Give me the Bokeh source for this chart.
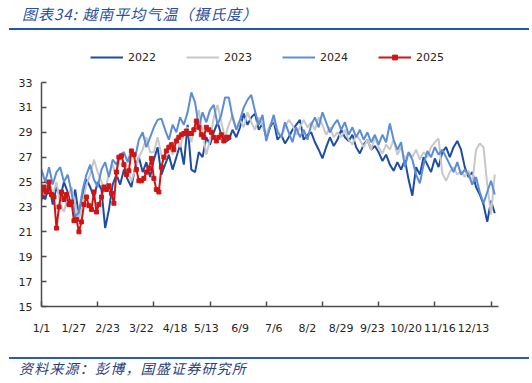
import numpy as np
from bokeh.plotting import figure
from bokeh.models import Range1d, FixedTicker, Legend, LegendItem, Div
from bokeh.layouts import column
from bokeh.embed import file_html
from bokeh.resources import INLINE

# ---------------- data ----------------
tick_days = [0, 26, 53, 80, 107, 132, 159, 186, 213, 240, 265, 292, 319, 346]
tick_labels = ["1/1", "1/27", "2/23", "3/22", "4/18", "5/13", "6/9", "7/6",
               "8/2", "8/29", "9/23", "10/20", "11/16", "12/13"]
minor_tick_days = [0, 45, 90, 135, 180, 225, 270, 315, 360]
y_ticks = [15, 17, 19, 21, 23, 25, 27, 29, 31, 33]
y_min, y_max = 15, 33

days_full = list(range(0, 364, 3))      # sampled every 3 days
days_2025 = list(range(0, 151, 2))      # sampled every 2 days

temp_2022 = [
    24.5, 23.6, 24.8, 23.2, 24.6, 23.8, 25.0, 24.2, 23.0, 24.4,
    22.2, 24.0, 25.2, 24.6, 23.8, 25.0, 24.4, 21.3, 22.8, 24.8,
    25.6, 24.8, 26.0, 25.2, 24.6, 26.2, 27.0, 25.8, 26.6, 25.4,
    26.8, 27.8, 25.6, 26.4, 27.2, 26.0, 27.0, 28.0, 26.4, 29.6,
    26.0, 25.8, 27.4, 27.0, 28.6, 28.0, 29.0, 29.8, 28.8, 28.2,
    28.4, 29.2, 28.6, 29.4, 30.5, 29.6, 30.2, 30.5, 29.2, 29.7,
    28.6, 29.4, 29.9, 28.4, 28.8, 28.1, 28.6, 29.2, 29.6, 30.0,
    28.4, 28.8, 29.0, 28.2, 27.6, 26.9, 27.8, 28.6, 27.9, 28.4,
    29.2, 28.6, 28.3, 28.8, 27.8, 27.3, 28.0, 28.4, 27.6, 27.9,
    27.4, 26.7, 27.2, 26.4, 25.9, 26.6, 26.0, 26.8, 25.2, 23.9,
    26.2, 25.6, 27.0, 26.4, 25.8, 26.9, 26.2, 27.4, 27.8, 27.0,
    27.8, 28.3, 27.6, 26.2, 25.4, 25.8, 24.6, 24.0, 23.2, 21.8, 23.5, 22.5,
]
temp_2023 = [
    23.4, 24.6, 25.2, 24.0, 25.0, 23.2, 22.6, 23.8, 24.6, 23.2,
    22.0, 23.4, 24.8, 25.6, 26.8, 25.8, 25.0, 24.4, 25.6, 26.4,
    25.4, 27.3, 26.6, 25.8, 25.1, 26.0, 27.0, 27.6, 28.6, 27.4,
    27.4, 28.6, 27.2, 26.8, 28.0, 27.2, 28.6, 27.8, 28.8, 29.4,
    28.2, 29.6, 30.8, 29.0, 27.2, 28.4, 30.2, 31.2, 29.8, 28.6,
    29.6, 30.4, 29.2, 30.0, 29.4, 30.6, 29.8, 29.2, 30.2, 29.6,
    28.8, 29.6, 30.0, 29.2, 28.6, 29.4, 30.0, 29.6, 28.8, 29.4,
    30.0, 29.4, 29.8, 29.2, 30.2, 29.6, 28.8, 29.4, 28.6, 29.0,
    28.6, 29.2, 28.4, 28.0, 28.8, 28.4, 27.8, 28.4, 27.6, 28.6,
    27.8, 27.3, 28.0, 27.6, 28.4, 27.2, 27.8, 26.8, 27.4, 27.0,
    27.6, 26.8, 27.4, 27.0, 27.8, 28.2, 28.5, 25.7, 25.1, 25.8,
    26.2, 25.6, 25.9, 25.4, 25.9, 24.9, 27.6, 28.1, 27.8, 24.8, 22.4, 25.6,
]
temp_2024 = [
    26.0, 25.0, 26.2, 24.8, 25.8, 26.2, 25.0, 25.6, 24.2, 22.2,
    22.6, 24.4, 25.6, 26.4, 25.2, 24.6, 26.0, 26.6, 25.4, 26.8,
    26.4, 27.2, 27.4, 26.6, 27.6, 27.0, 28.4, 29.0, 27.8, 28.6,
    29.4, 30.0, 30.1, 29.2, 28.4, 29.6, 29.0, 30.2, 29.6, 30.6,
    32.2, 31.4, 29.4, 30.6, 29.8, 30.8, 31.2, 29.6, 30.4, 31.8,
    31.8, 30.2, 29.2, 30.0, 31.0, 31.6, 32.0, 30.7, 29.6, 30.4,
    28.3, 29.4, 30.4, 29.0, 28.6, 29.8, 29.0, 28.2, 29.4, 28.6,
    29.2, 28.4, 29.6, 30.2, 29.4, 30.6, 29.8, 29.0, 29.6, 30.0,
    29.2, 29.8, 28.8, 29.4, 28.6, 29.2, 28.4, 29.0, 28.2, 28.8,
    28.0, 28.8, 28.2, 29.7, 28.4, 27.6, 28.2, 26.2, 27.4, 26.8,
    25.6, 24.9, 26.4, 27.5, 27.0, 27.8, 27.2, 27.6, 27.0, 26.4,
    25.8, 26.6, 25.6, 26.0, 25.6, 24.8, 25.4, 24.2, 23.3, 24.2, 25.1, 24.0,
]
temp_2025 = [
    23.8, 24.6, 24.2, 25.0, 24.0, 23.8, 21.3, 23.0, 24.2, 23.6,
    24.0, 23.2, 23.4, 21.9, 22.0, 21.0, 21.8, 23.2, 23.8, 23.1,
    22.8, 24.2, 22.6, 23.2, 23.8, 24.6, 24.4, 24.7, 24.1, 23.3,
    25.8, 27.0, 27.1, 26.4, 25.6, 25.9, 27.5, 27.2, 26.0, 25.1,
    25.1, 25.3, 25.8, 26.1, 26.9, 25.3, 24.4, 24.2, 26.2, 27.0,
    27.5, 27.8, 28.0, 27.6, 28.3, 28.6, 28.8, 28.9, 29.1, 28.9,
    28.9, 29.2, 29.9, 29.4, 28.8, 28.6, 29.4, 29.2, 29.0, 28.6,
    28.3, 28.6, 28.8, 28.3, 28.6, 28.6,
]

series_names = ["2022", "2023", "2024", "2025"]
series_colors = ["#1D4DA1", "#C8C8C8", "#5C8DD6", "#D01414"]

# ---------------- figure ----------------
W, H = 516, 313
border_top, border_bottom = 12, 42
axis_px = 224                       # pixel height of the 15..33 axis span
frame_px = H - border_top - border_bottom
y_top = y_min + (y_max - y_min) * frame_px / axis_px   # room above 33 for the legend

p = figure(width=W, height=H, output_backend="svg", toolbar_location=None,
           x_range=Range1d(0, 366), y_range=Range1d(y_min, y_top),
           min_border_left=41, min_border_right=18,
           min_border_top=border_top, min_border_bottom=border_bottom)
p.outline_line_color = None
p.xgrid.grid_line_color = None
p.ygrid.grid_line_color = None
p.background_fill_color = "white"
p.border_fill_color = "white"

r22 = p.line(days_full, temp_2022, line_color=series_colors[0], line_width=2)
r23 = p.line(days_full, temp_2023, line_color=series_colors[1], line_width=2)
r24 = p.line(days_full, temp_2024, line_color=series_colors[2], line_width=2)
r25 = p.line(days_2025, temp_2025, line_color=series_colors[3], line_width=2)
r25m = p.scatter(days_2025, temp_2025, marker="square", size=4,
                 fill_color=series_colors[3], line_color=series_colors[3])

axis_col = "#4D4D4D"
xa = p.xaxis[0]
xa.ticker = FixedTicker(ticks=tick_days, minor_ticks=minor_tick_days)
xa.major_label_overrides = {d: l for d, l in zip(tick_days, tick_labels)}
xa.major_tick_line_color = None
xa.minor_tick_line_color = axis_col
xa.minor_tick_line_width = 1.5
xa.minor_tick_in = 5
xa.minor_tick_out = 0
xa.axis_line_color = axis_col
xa.axis_line_width = 1.5
xa.major_label_standoff = 9
xa.major_label_text_font = "DejaVu Sans"
xa.major_label_text_font_size = "11px"
xa.major_label_text_color = "#262626"

ya = p.yaxis[0]
ya.ticker = FixedTicker(ticks=y_ticks)
ya.bounds = (y_min, y_max)
ya.minor_tick_line_color = None
ya.major_tick_in = 5
ya.major_tick_out = 0
ya.major_tick_line_color = axis_col
ya.major_tick_line_width = 1.5
ya.axis_line_color = axis_col
ya.axis_line_width = 1.5
ya.major_label_standoff = 9
ya.major_label_text_font = "DejaVu Sans"
ya.major_label_text_font_size = "11px"
ya.major_label_text_color = "#262626"

# location = (left, bottom) of the legend box, in px from the frame's bottom-left
legend = Legend(items=[
    LegendItem(label=series_names[0], renderers=[r22]),
    LegendItem(label=series_names[1], renderers=[r23]),
    LegendItem(label=series_names[2], renderers=[r24]),
    LegendItem(label=series_names[3], renderers=[r25, r25m]),
], orientation="horizontal", location=(49, 239))
legend.glyph_width = 33
legend.glyph_height = 12
legend.label_height = 20
legend.label_standoff = 5
legend.spacing = 30
legend.padding = 0
legend.margin = 0
legend.border_line_color = None
legend.background_fill_alpha = 0
legend.label_text_font = "DejaVu Sans"
legend.label_text_font_size = "11px"
legend.label_text_color = "#262626"
p.add_layout(legend, "center")

title_div = Div(
    text=('<div style="font-family:\'Noto Sans CJK SC\',sans-serif;font-style:italic;'
          'font-size:15px;color:#2B4F9E;letter-spacing:1px;padding-left:13px;'
          'padding-top:2px;line-height:14px;border-bottom:2px solid #2256A6;'
          'margin-left:4px;width:520px;box-sizing:border-box;height:25px;">'
          '图表34:&nbsp;越南平均气温（摄氏度）</div>'),
    width=524, height=25)

footer_div = Div(
    text=('<div style="margin-top:4px;border-top:2px solid #2A5CAA;padding-top:2px;'
          'font-family:\'Noto Sans CJK SC\',sans-serif;font-style:italic;font-size:14px;'
          'letter-spacing:1.2px;color:#2B3F7A;line-height:15px;padding-left:10px;'
          'margin-left:4px;width:520px;box-sizing:border-box;">'
          '资料来源：彭博，国盛证券研究所</div>'),
    width=524, height=29)

layout = column(title_div, p, footer_div, spacing=0)

open("out.html", "w").write(file_html(layout, INLINE))
